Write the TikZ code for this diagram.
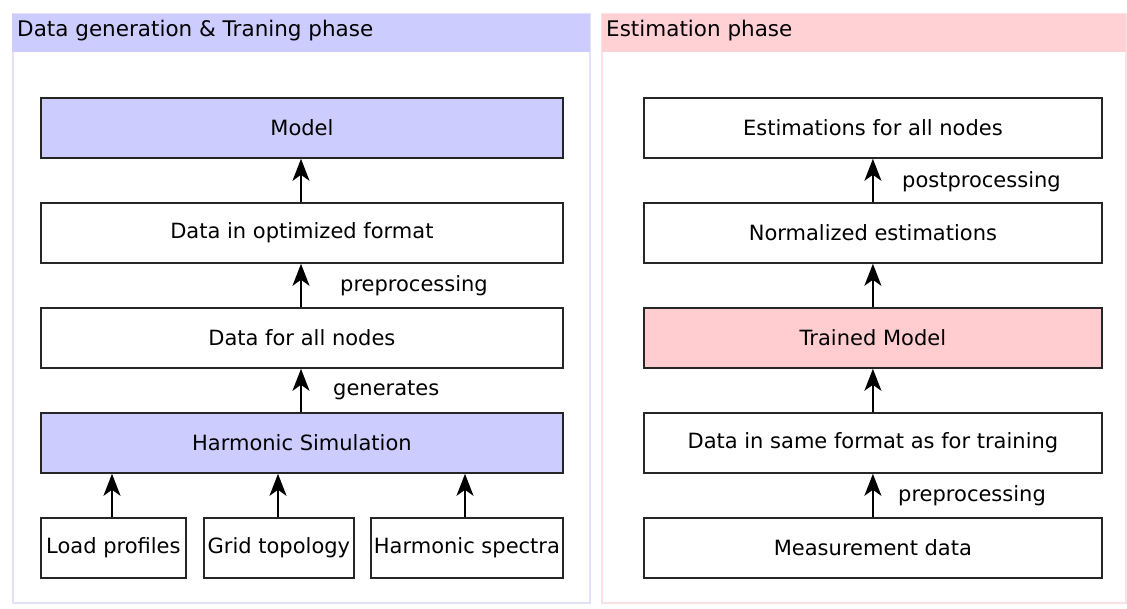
\documentclass[tikz,border=0pt]{standalone}
\usepackage{fontspec}
\setmainfont{DejaVu Sans}
\usetikzlibrary{arrows.meta}
\definecolor{lav}{RGB}{204,204,255}
\definecolor{rose}{RGB}{255,204,208}
\definecolor{lavline}{RGB}{225,225,250}
\definecolor{roseline}{RGB}{252,225,228}
\begin{document}
\begin{tikzpicture}[x=1pt,y=-1pt,
  font=\fontsize{21}{24}\selectfont,
  box/.style={draw=black!85,line width=1.8pt,inner sep=0pt,anchor=north west},
  flow/.style={-{Stealth[length=22pt,width=17pt,inset=6pt]},line width=2pt,black},
  lbl/.style={inner sep=0pt,anchor=west}]
\useasboundingbox (0,0) rectangle (1127,608);
% panel frames and header bands
\draw[lavline,line width=1.2pt] (13,14) rectangle (590,603);
\fill[lav] (12,14) rectangle (590,52);
\node[lbl,font=\fontsize{21.5}{24}\selectfont] (tl) at (17,31) {Data generation \& Traning phase};
\draw[roseline,line width=1.2pt] (602,14) rectangle (1126,603);
\fill[rose!90] (602,14) rectangle (1126,52);
\node[lbl,font=\fontsize{21.5}{24}\selectfont] (tr) at (606,31) {Estimation phase};
% left column
\node[box,fill=lav,minimum width=522pt,minimum height=60pt] (model) at (40,97) {Model};
\node[box,minimum width=522pt,minimum height=60pt] (opt) at (40,202) {Data in optimized format};
\node[box,minimum width=522pt,minimum height=60pt] (all) at (40,307) {Data for all nodes};
\node[box,fill=lav,minimum width=522pt,minimum height=60pt] (sim) at (40,412) {Harmonic Simulation};
\node[box,minimum width=145pt,minimum height=60pt] (load) at (40,517) {Load profiles};
\node[box,minimum width=150pt,minimum height=60pt] (grid) at (203,517) {Grid topology};
\node[box,minimum width=192pt,minimum height=60pt] (spec) at (370,517) {Harmonic spectra};
\draw[flow] (opt.north -| 301,0) -- (model.south -| 301,0);
\draw[flow] (all.north -| 301,0) -- (opt.south -| 301,0);
\draw[flow] (sim.north -| 301,0) -- (all.south -| 301,0);
\node[lbl] (pre1) at (340,286) {preprocessing};
\node[lbl] (gen) at (333,390) {generates};
\draw[flow] (load.north -| 112,0) -- (sim.south -| 112,0);
\draw[flow] (grid.north -| 278,0) -- (sim.south -| 278,0);
\draw[flow] (spec.north -| 465,0) -- (sim.south -| 465,0);
% right column
\node[box,minimum width=458pt,minimum height=60pt] (est) at (643,97) {Estimations for all nodes};
\node[box,minimum width=458pt,minimum height=60pt] (norm) at (643,202) {Normalized estimations};
\node[box,fill=rose,minimum width=458pt,minimum height=60pt] (tm) at (643,307) {Trained Model};
\node[box,minimum width=458pt,minimum height=60pt] (same) at (643,412) {Data in same format as for training};
\node[box,minimum width=458pt,minimum height=60pt] (meas) at (643,517) {Measurement data};
\draw[flow] (norm.north) -- (est.south);
\draw[flow] (tm.north) -- (norm.south);
\draw[flow] (same.north) -- (tm.south);
\draw[flow] (meas.north) -- (same.south);
\node[lbl] (post) at (902,182) {postprocessing};
\node[lbl] (pre2) at (898,496) {preprocessing};
\end{tikzpicture}
\end{document}
